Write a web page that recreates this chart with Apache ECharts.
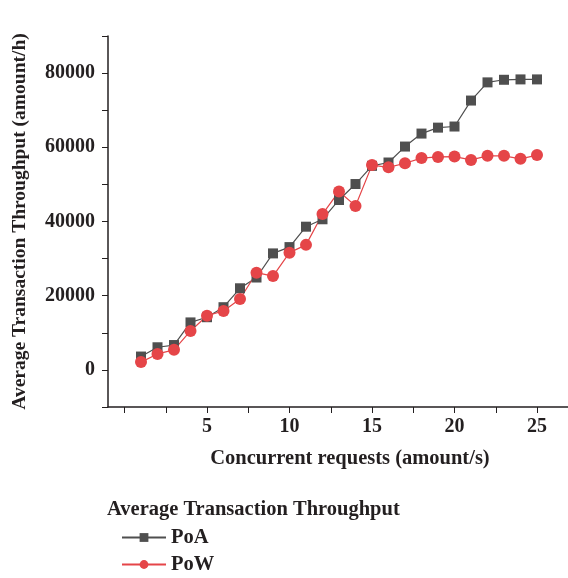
<!DOCTYPE html>
<html><head><meta charset="utf-8">
<script src="https://cdn.jsdelivr.net/npm/echarts@6/dist/echarts.min.js"></script>
<style>html,body{margin:0;padding:0;background:#fff}#c{width:568px;height:578px}</style>
</head><body><div id="c"></div>
<script>
const xValues = [1,2,3,4,5,6,7,8,9,10,11,12,13,14,15,16,17,18,19,20,21,22,23,24,25];
const poa = [3600,6100,6700,12800,14200,16900,22000,24900,31400,33100,38600,40600,45800,50100,55000,55900,60200,63700,65300,65600,72600,77500,78200,78300,78300];
const pow = [2100,4300,5400,10500,14600,15900,19100,26200,25300,31600,33700,42000,48100,44200,55200,54600,55700,57100,57400,57500,56600,57700,57700,56900,57900];
const xTicks = [0,2.5,5,7.5,10,12.5,15,17.5,20,22.5,25];
const xLabels = [5,10,15,20,25];
const yLabels = [0,20000,40000,60000,80000];

const font = '"Liberation Serif", "DejaVu Serif", serif';
const ink = '#231f20';
const chart = echarts.init(document.getElementById('c'));
chart.setOption({
  animation: false,
  textStyle: {fontFamily: font},
  title: {
    text: 'Average Transaction Throughput',
    left: 107, top: 499, padding: 0,
    textStyle: {fontFamily: font, fontWeight: 'bold', fontSize: 20.5, color: ink}
  },
  legend: {
    orient: 'vertical',
    left: 121, top: 527, height: 60, padding: 0,
    itemWidth: 44, itemHeight: 11, itemGap: 6,
    textStyle: {fontFamily: font, fontWeight: 'bold', fontSize: 20.5, color: ink},
    data: ['PoA','PoW']
  },
  grid: {left: 108, top: 36, width: 462, height: 371, outerBoundsMode: 'none', containLabel: false},
  xAxis: {
    type: 'value', min: -1, max: 27,
    name: 'Concurrent requests (amount/s)',
    nameLocation: 'middle', nameGap: 41,
    nameTextStyle: {fontFamily: font, fontWeight: 'bold', fontSize: 20.5, color: ink, padding: [0,0,0,22]},
    axisLine: {onZero: false, lineStyle: {color: ink, width: 1.5}},
    axisTick: {show: true, length: 6, inside: false, customValues: xTicks, lineStyle: {color: ink}},
    axisLabel: {customValues: xLabels, fontFamily: font, fontWeight: 'bold', fontSize: 20, color: ink, margin: 10},
    splitLine: {show: false}
  },
  yAxis: {
    type: 'value', min: -10000, max: 90000, interval: 10000,
    name: 'Average Transaction Throughput (amount/h)',
    nameLocation: 'middle', nameGap: 78,
    nameTextStyle: {fontFamily: font, fontWeight: 'bold', fontSize: 19.5, color: ink},
    axisLine: {show: true, onZero: false, lineStyle: {color: ink, width: 1.5}},
    axisTick: {show: true, length: 6, lineStyle: {color: ink}},
    axisLabel: {customValues: yLabels, formatter: v => String(v), fontFamily: font, fontWeight: 'bold', fontSize: 20, color: ink, margin: 13},
    splitLine: {show: false}
  },
  series: [
    {
      name: 'PoA', type: 'line',
      data: xValues.map((x,i)=>[x, poa[i]]),
      symbol: 'rect', symbolSize: 10,
      itemStyle: {color: '#4f4f4f'},
      lineStyle: {color: '#4f4f4f', width: 1.2}
    },
    {
      name: 'PoW', type: 'line',
      data: xValues.map((x,i)=>[x, pow[i]]),
      symbol: 'circle', symbolSize: 12,
      itemStyle: {color: '#e54548'},
      lineStyle: {color: '#e54548', width: 1.2}
    }
  ]
});
</script></body></html>
